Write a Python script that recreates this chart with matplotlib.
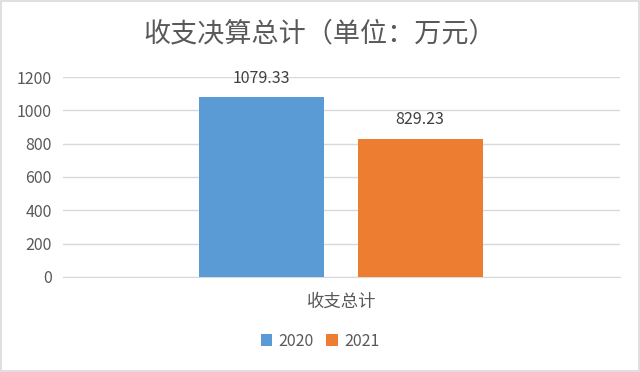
import matplotlib
matplotlib.use("Agg")
import matplotlib.pyplot as plt
from matplotlib.patches import Rectangle

plt.rcParams['font.family'] = ['Noto Sans CJK SC', 'DejaVu Sans']

title = "收支决算总计（单位：万元）"
category = "收支总计"
series_names = ["2020", "2021"]
values = [1079.33, 829.23]
colors = ["#5b9bd5", "#ed7d31"]
yticks = [0, 200, 400, 600, 800, 1000, 1200]

fig = plt.figure(figsize=(6.4, 3.72), dpi=100)
fig.patches.append(Rectangle((0.002, 0.003), 0.996, 0.994, transform=fig.transFigure,
                             fill=False, edgecolor="#d9d9d9", linewidth=1.2))
ax = fig.add_axes([0.0984, 0.2554, 0.8706, 0.5376])

offsets = [-0.1436, 0.141]
width = 0.2244
for off, v, c, n in zip(offsets, values, colors, series_names):
    ax.bar(off, v, width=width, color=c, label=n, zorder=3)
    ax.annotate(f"{v:.2f}", (off, v), xytext=(0, 7.5), textcoords="offset points",
                ha="center", va="bottom", fontsize=11.5, color="#404040")

ax.set_xlim(-0.5, 0.5)
ax.set_ylim(0, 1200)
ax.set_yticks(yticks)
ax.set_xticks([0])
ax.set_xticklabels([category], fontsize=12.5, color="#595959")
ax.tick_params(axis='y', labelsize=11.5, colors="#595959", length=0, pad=8)
ax.tick_params(axis='x', length=0, pad=11)
ax.grid(axis='y', color="#d9d9d9", linewidth=1, zorder=0)
for s in ["top", "right", "left"]:
    ax.spines[s].set_visible(False)
ax.spines["bottom"].set_color("#d9d9d9")

fig.text(0.5, 0.91, title, ha="center", va="center", fontsize=19.5, color="#595959")
fig.legend(loc="center", bbox_to_anchor=(0.5, 0.083), ncol=2, frameon=False,
           fontsize=11.5, handlelength=0.7, handleheight=0.7, handletextpad=0.4,
           columnspacing=0.8, labelcolor="#595959")

fig.savefig("out.png", dpi=100)
